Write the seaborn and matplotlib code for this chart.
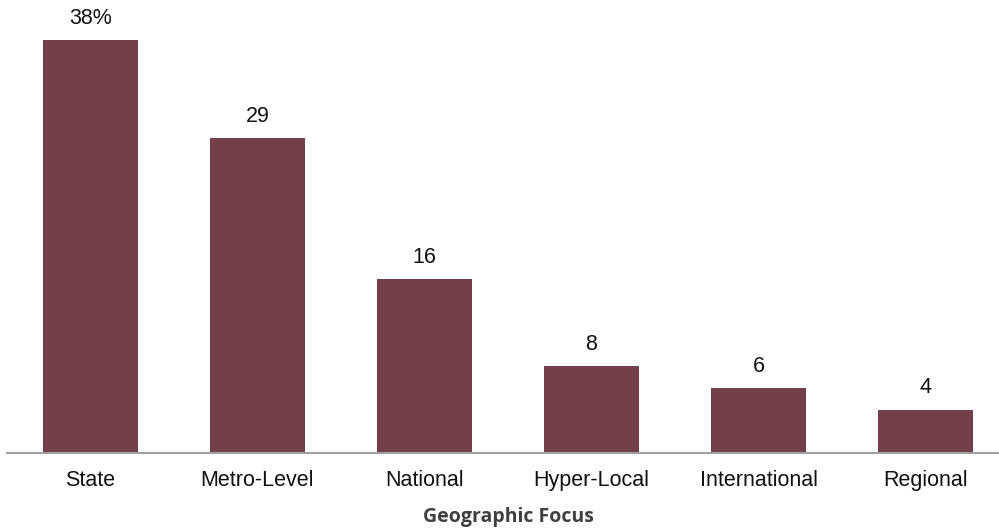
import matplotlib
matplotlib.use("Agg")
import matplotlib.pyplot as plt
import seaborn as sns
import pandas as pd

categories = ["State", "Metro-Level", "National", "Hyper-Local", "International", "Regional"]
values = [38, 29, 16, 8, 6, 4]
value_labels = ["38%", "29", "16", "8", "6", "4"]
xlabel = "Geographic Focus"

sns.set_style("white")
plt.rcParams['font.family'] = ['Liberation Sans', 'DejaVu Sans']

df = pd.DataFrame({"cat": categories, "val": values})

fig = plt.figure(figsize=(9.99, 5.32), dpi=100)
ax = fig.add_axes([7 / 999, (532 - 453) / 532, 1002 / 999, 453 / 532])

sns.barplot(data=df, x="cat", y="val", color="#733F4A", width=0.57, saturation=1,
            linewidth=0, edgecolor="none", ax=ax)
ax.set_ylim(0, 453 / 10.87)
ax.set_xlim(-0.5, len(categories) - 0.5)

for i, (v, lab) in enumerate(zip(values, value_labels)):
    ax.annotate(lab, (i, v), xytext=(0, 8), textcoords="offset points",
                ha="center", va="bottom", fontsize=15.5, color="#111111")

for s in ["top", "right", "left"]:
    ax.spines[s].set_visible(False)
ax.spines["bottom"].set_color("#A0A0A0")
ax.spines["bottom"].set_linewidth(1.5)
ax.set_yticks([])
ax.set_ylabel("")
ax.tick_params(axis="x", length=0, pad=12, labelsize=15.5, labelcolor="#111111")
ax.set_xlabel(xlabel, fontsize=14, fontweight="bold", color="#404040",
              family=["Open Sans", "DejaVu Sans"], labelpad=12)

fig.savefig("out.png", dpi=100)
